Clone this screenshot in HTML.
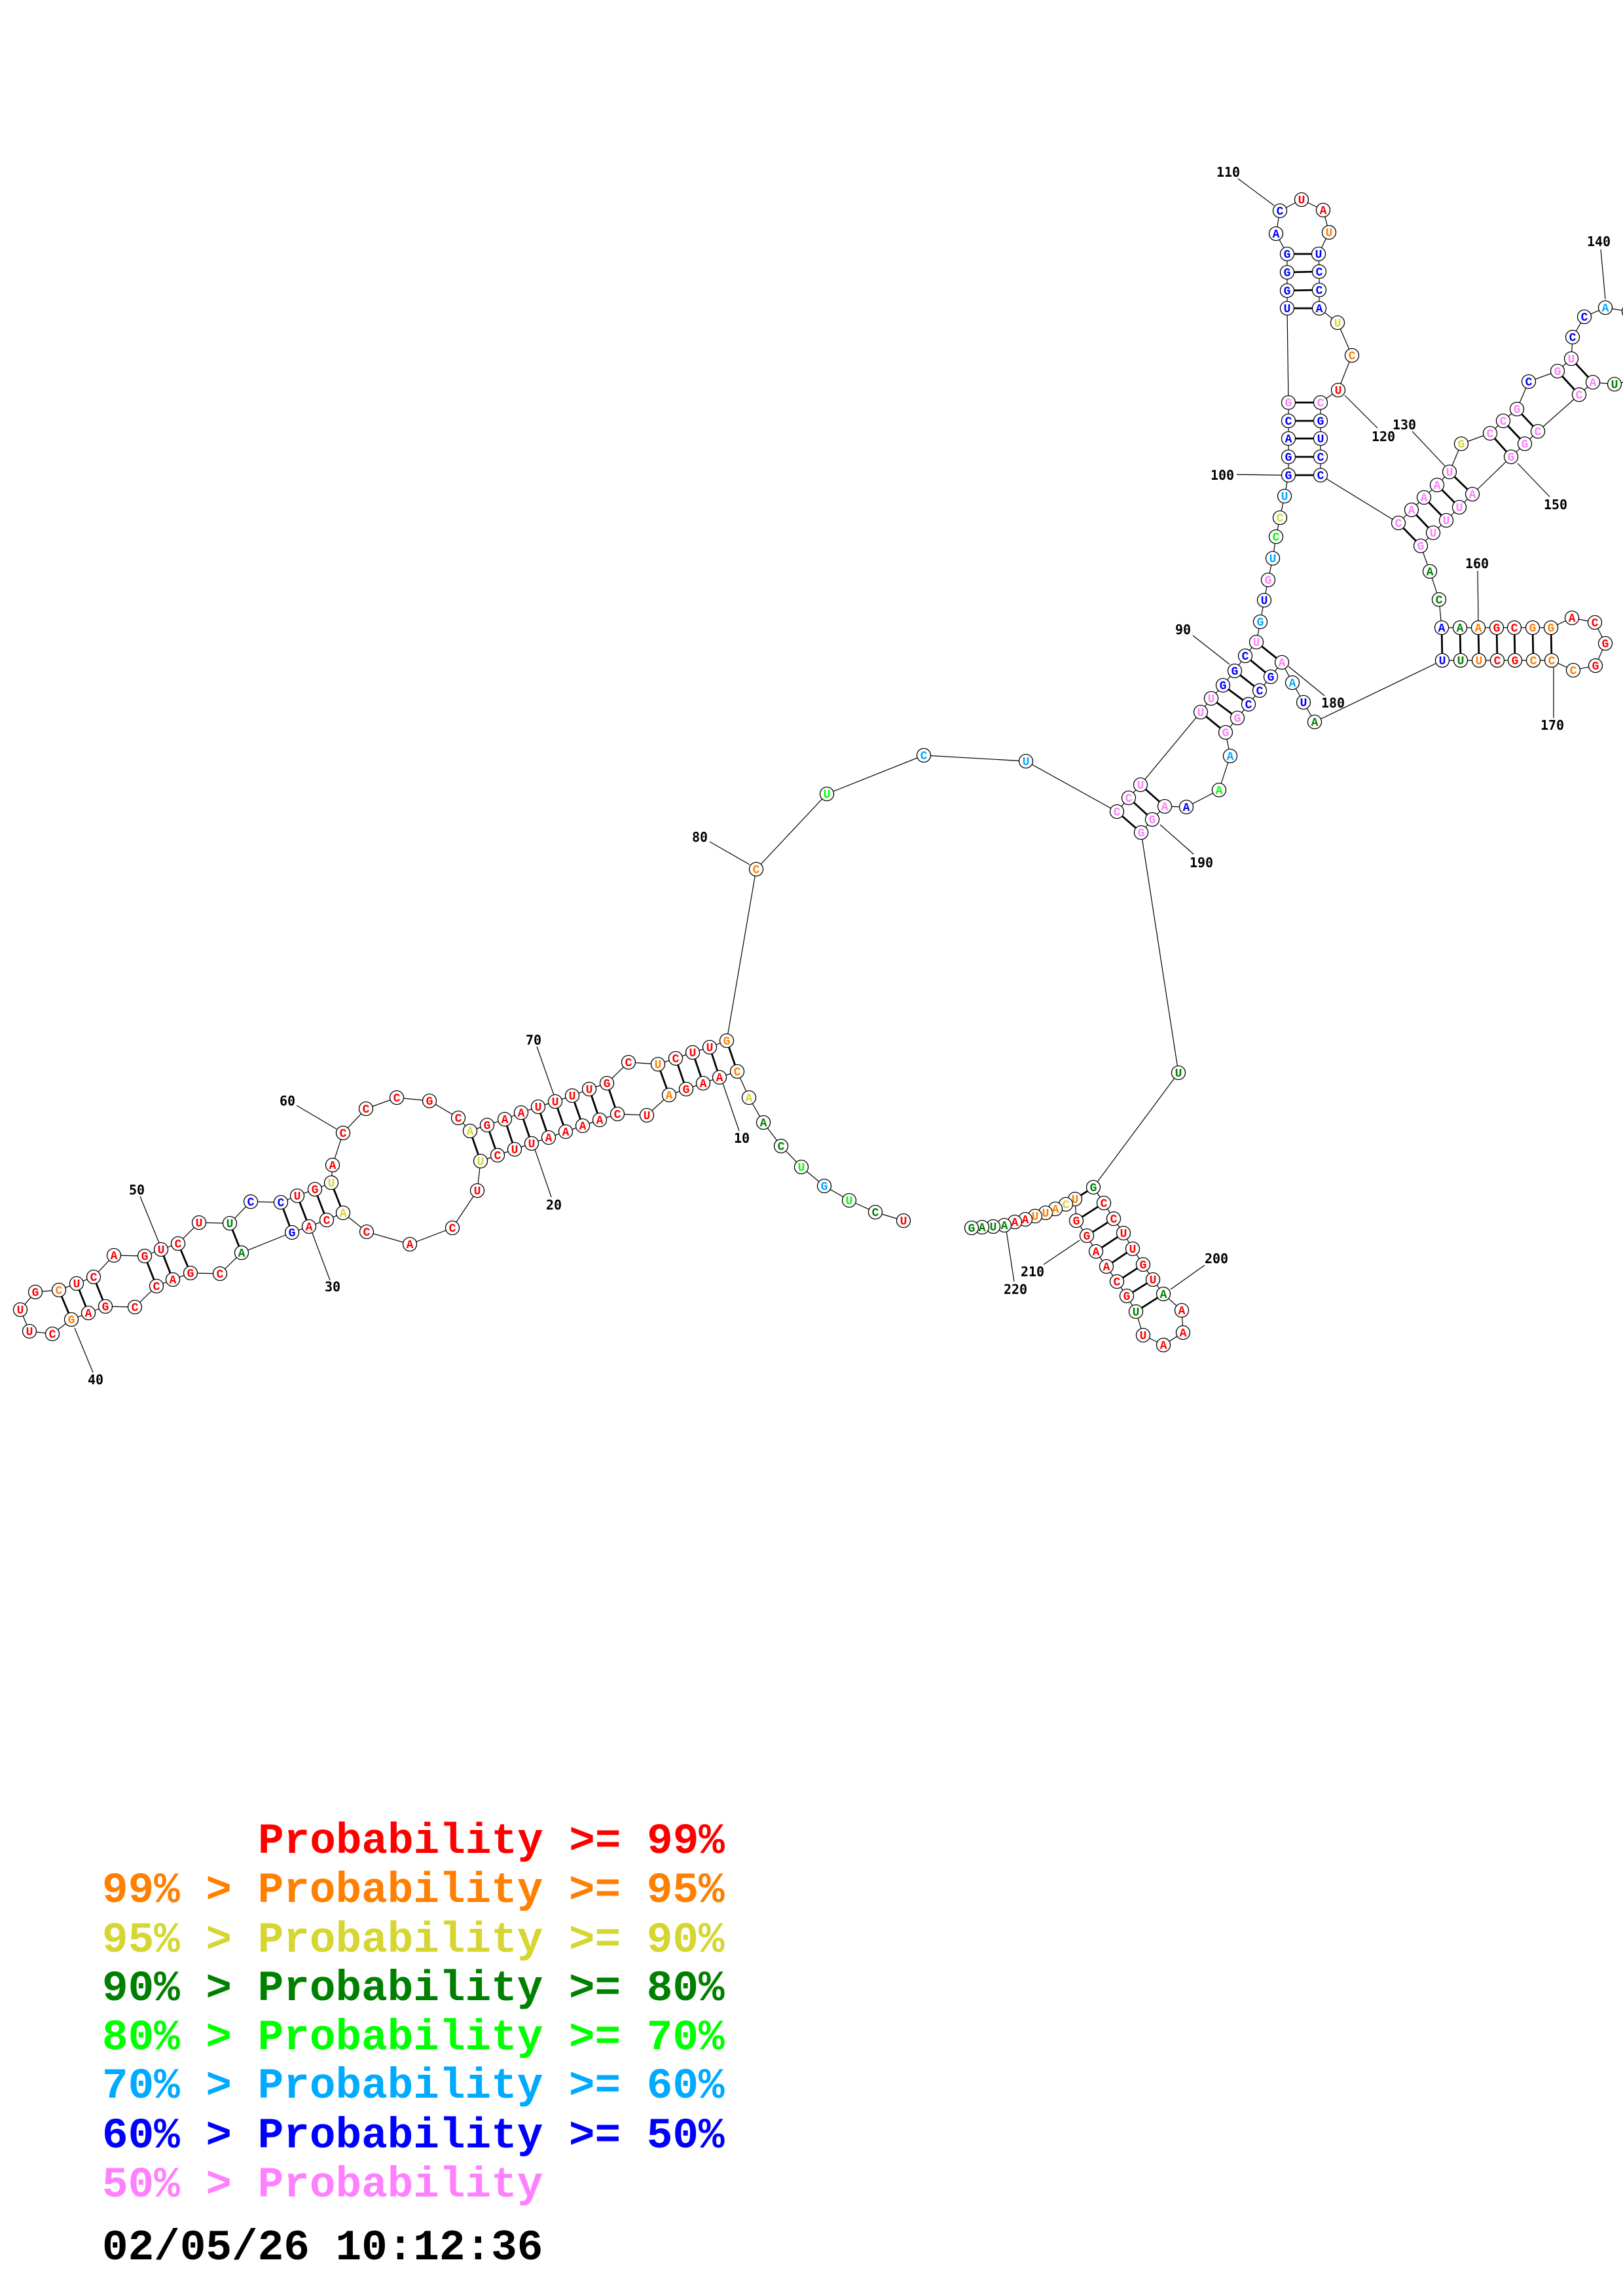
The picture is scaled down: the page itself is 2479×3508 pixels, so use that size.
<!DOCTYPE html>
<html><head><meta charset="utf-8"><title>RNA structure</title>
<style>
html,body{margin:0;padding:0;background:#fff}
svg{display:block}
.R{fill:#ff0000}.O{fill:#ff8000}.Y{fill:#d6d632}.D{fill:#008000}.L{fill:#00ff00}.S{fill:#00aaff}.B{fill:#0000ff}.P{fill:#ff80ff}.K{fill:#000}
</style></head><body>
<svg xmlns="http://www.w3.org/2000/svg" width="2479" height="3508" viewBox="0 0 2479 3508">
<rect x="0" y="0" width="2479" height="3508" fill="#fff"/>
<g fill="none" stroke="#000" stroke-width="1.2">
<polyline points="1380,1865 1337,1852 1297,1834 1259,1812 1224,1783 1193,1751 1166,1715 1144,1677 1126,1637 1099,1646 1074,1655 1048,1664 1022,1673 988,1704 943,1702 916,1711 890,1720 864,1729 838,1738 812,1747 786,1756 760,1765 734,1774 729,1819 691,1876 626,1901 560,1882 524,1853 499,1864 472,1874 446,1883 369,1914 336,1946 291,1945 264,1955 239,1965 206,1997 161,1996 135,2006 109,2016 80,2038 45,2034 31,2001 54,1974 90,1971 117,1961 143,1951 174,1918 221,1919 246,1909 272,1900 304,1868 351,1869 383,1836 429,1837 454,1827 481,1817 506,1807 508,1780 524,1731 559,1694 606,1677 656,1682 700,1708 718,1728 744,1719 771,1710 796,1700 822,1691 848,1683 874,1674 900,1664 927,1655 960,1623 1005,1626 1032,1617 1058,1608 1084,1600 1110,1590 1155,1328 1263,1213 1411,1154 1567,1163 1706,1240 1724,1219 1742,1199 1834,1088 1850,1067 1868,1047 1886,1025 1902,1002 1919,981 1925,950 1931,917 1937,886 1944,853 1949,820 1955,791 1962,758 1968,726 1968,698 1968,670 1968,643 1968,615 1966,471 1966,444 1966,416 1966,388 1949,357 1955,322 1988,305 2021,321 2030,355 2014,388 2015,415 2015,443 2015,471 2043,493 2065,543 2044,596 2017,615 2017,643 2017,670 2017,698 2017,726 2136,799 2156,779 2175,760 2195,741 2214,721 2232,678 2276,662 2296,643 2317,625 2335,583 2379,567 2400,548 2402,515 2420,484 2452,470 2488,476"/>
<polyline points="2490,582 2466,587 2433,584 2412,603 2349,659 2329,678 2308,698 2249,755 2229,775 2209,795 2189,814 2170,834 2184,873 2198,916 2202,959 2230,959 2258,959 2286,959 2313,959 2341,959 2369,959 2401,944 2436,951 2452,983 2437,1017 2403,1024 2370,1009 2342,1009 2314,1009 2287,1009 2259,1009 2231,1009 2203,1009 2008,1103 1991,1073 1974,1043 1958,1012 1941,1034 1924,1055 1907,1076 1890,1097 1872,1119 1879,1155 1862,1207 1812,1233 1779,1232 1760,1252 1743,1272 1800,1639 1670,1814 1686,1838 1701,1862 1716,1884 1730,1908 1746,1932 1761,1955 1777,1977 1805,2002 1807,2036 1777,2055 1746,2040 1735,2004 1721,1980 1706,1958 1690,1935 1674,1912 1660,1888 1644,1865 1642,1832 1628,1840 1612,1847 1597,1853 1581,1858 1566,1863 1550,1867 1534,1872 1517,1874 1500,1875 1484,1876"/>
<path d="M1104,1655L1129,1728 M817,1756L842,1829 M477,1884L504,1956 M114,2029L142,2097 M214,1828L243,1899 M453,1689L514,1725 M820,1599L846,1673 M1084,1286L1145,1321 M1822,971L1878,1015 M1889,725L1958,726 M1891,273L1946,314 M2054,604L2104,654 M2157,659L2207,712 M2445,381L2452,457 M2318,708L2367,759 M2257,872L2258,948 M2373,1020L2373,1097 M1968,1018L2023,1063 M1772,1260L1823,1305 M1788,1970L1840,1933 M1594,1932L1649,1895 M1537,1880L1549,1958"/>
</g>
<path fill="none" stroke="#000" stroke-width="2.8" d="M1110,1590L1126,1637 M1084,1600L1099,1646 M1058,1608L1074,1655 M1032,1617L1048,1664 M1005,1626L1022,1673 M927,1655L943,1702 M900,1664L916,1711 M874,1674L890,1720 M848,1683L864,1729 M822,1691L838,1738 M796,1700L812,1747 M771,1710L786,1756 M744,1719L760,1765 M718,1728L734,1774 M506,1807L524,1853 M481,1817L499,1864 M454,1827L472,1874 M429,1837L446,1883 M351,1869L369,1914 M272,1900L291,1945 M246,1909L264,1955 M221,1919L239,1965 M143,1951L161,1996 M117,1961L135,2006 M90,1971L109,2016 M1706,1240L1743,1272 M1724,1219L1760,1252 M1742,1199L1779,1232 M1834,1088L1872,1119 M1850,1067L1890,1097 M1868,1047L1907,1076 M1886,1025L1924,1055 M1902,1002L1941,1034 M1919,981L1958,1012 M1968,726L2017,726 M1968,698L2017,698 M1968,670L2017,670 M1968,643L2017,643 M1968,615L2017,615 M1966,471L2015,471 M1966,444L2015,443 M1966,416L2015,415 M1966,388L2014,388 M2136,799L2170,834 M2156,779L2189,814 M2175,760L2209,795 M2195,741L2229,775 M2214,721L2249,755 M2276,662L2308,698 M2296,643L2329,678 M2317,625L2349,659 M2379,567L2412,603 M2400,548L2433,584 M2202,959L2203,1009 M2230,959L2231,1009 M2258,959L2259,1009 M2286,959L2287,1009 M2313,959L2314,1009 M2341,959L2342,1009 M2369,959L2370,1009 M1670,1814L1642,1832 M1686,1838L1644,1865 M1701,1862L1660,1888 M1716,1884L1674,1912 M1730,1908L1690,1935 M1746,1932L1706,1958 M1761,1955L1721,1980 M1777,1977L1735,2004"/>
<g fill="#fff" stroke="#000" stroke-width="1.3">
<circle cx="1380" cy="1865" r="10.5"/><circle cx="1337" cy="1852" r="10.5"/><circle cx="1297" cy="1834" r="10.5"/><circle cx="1259" cy="1812" r="10.5"/><circle cx="1224" cy="1783" r="10.5"/><circle cx="1193" cy="1751" r="10.5"/><circle cx="1166" cy="1715" r="10.5"/><circle cx="1144" cy="1677" r="10.5"/><circle cx="1126" cy="1637" r="10.5"/><circle cx="1099" cy="1646" r="10.5"/>
<circle cx="1074" cy="1655" r="10.5"/><circle cx="1048" cy="1664" r="10.5"/><circle cx="1022" cy="1673" r="10.5"/><circle cx="988" cy="1704" r="10.5"/><circle cx="943" cy="1702" r="10.5"/><circle cx="916" cy="1711" r="10.5"/><circle cx="890" cy="1720" r="10.5"/><circle cx="864" cy="1729" r="10.5"/><circle cx="838" cy="1738" r="10.5"/><circle cx="812" cy="1747" r="10.5"/>
<circle cx="786" cy="1756" r="10.5"/><circle cx="760" cy="1765" r="10.5"/><circle cx="734" cy="1774" r="10.5"/><circle cx="729" cy="1819" r="10.5"/><circle cx="691" cy="1876" r="10.5"/><circle cx="626" cy="1901" r="10.5"/><circle cx="560" cy="1882" r="10.5"/><circle cx="524" cy="1853" r="10.5"/><circle cx="499" cy="1864" r="10.5"/><circle cx="472" cy="1874" r="10.5"/>
<circle cx="446" cy="1883" r="10.5"/><circle cx="369" cy="1914" r="10.5"/><circle cx="336" cy="1946" r="10.5"/><circle cx="291" cy="1945" r="10.5"/><circle cx="264" cy="1955" r="10.5"/><circle cx="239" cy="1965" r="10.5"/><circle cx="206" cy="1997" r="10.5"/><circle cx="161" cy="1996" r="10.5"/><circle cx="135" cy="2006" r="10.5"/><circle cx="109" cy="2016" r="10.5"/>
<circle cx="80" cy="2038" r="10.5"/><circle cx="45" cy="2034" r="10.5"/><circle cx="31" cy="2001" r="10.5"/><circle cx="54" cy="1974" r="10.5"/><circle cx="90" cy="1971" r="10.5"/><circle cx="117" cy="1961" r="10.5"/><circle cx="143" cy="1951" r="10.5"/><circle cx="174" cy="1918" r="10.5"/><circle cx="221" cy="1919" r="10.5"/><circle cx="246" cy="1909" r="10.5"/>
<circle cx="272" cy="1900" r="10.5"/><circle cx="304" cy="1868" r="10.5"/><circle cx="351" cy="1869" r="10.5"/><circle cx="383" cy="1836" r="10.5"/><circle cx="429" cy="1837" r="10.5"/><circle cx="454" cy="1827" r="10.5"/><circle cx="481" cy="1817" r="10.5"/><circle cx="506" cy="1807" r="10.5"/><circle cx="508" cy="1780" r="10.5"/><circle cx="524" cy="1731" r="10.5"/>
<circle cx="559" cy="1694" r="10.5"/><circle cx="606" cy="1677" r="10.5"/><circle cx="656" cy="1682" r="10.5"/><circle cx="700" cy="1708" r="10.5"/><circle cx="718" cy="1728" r="10.5"/><circle cx="744" cy="1719" r="10.5"/><circle cx="771" cy="1710" r="10.5"/><circle cx="796" cy="1700" r="10.5"/><circle cx="822" cy="1691" r="10.5"/><circle cx="848" cy="1683" r="10.5"/>
<circle cx="874" cy="1674" r="10.5"/><circle cx="900" cy="1664" r="10.5"/><circle cx="927" cy="1655" r="10.5"/><circle cx="960" cy="1623" r="10.5"/><circle cx="1005" cy="1626" r="10.5"/><circle cx="1032" cy="1617" r="10.5"/><circle cx="1058" cy="1608" r="10.5"/><circle cx="1084" cy="1600" r="10.5"/><circle cx="1110" cy="1590" r="10.5"/><circle cx="1155" cy="1328" r="10.5"/>
<circle cx="1263" cy="1213" r="10.5"/><circle cx="1411" cy="1154" r="10.5"/><circle cx="1567" cy="1163" r="10.5"/><circle cx="1706" cy="1240" r="10.5"/><circle cx="1724" cy="1219" r="10.5"/><circle cx="1742" cy="1199" r="10.5"/><circle cx="1834" cy="1088" r="10.5"/><circle cx="1850" cy="1067" r="10.5"/><circle cx="1868" cy="1047" r="10.5"/><circle cx="1886" cy="1025" r="10.5"/>
<circle cx="1902" cy="1002" r="10.5"/><circle cx="1919" cy="981" r="10.5"/><circle cx="1925" cy="950" r="10.5"/><circle cx="1931" cy="917" r="10.5"/><circle cx="1937" cy="886" r="10.5"/><circle cx="1944" cy="853" r="10.5"/><circle cx="1949" cy="820" r="10.5"/><circle cx="1955" cy="791" r="10.5"/><circle cx="1962" cy="758" r="10.5"/><circle cx="1968" cy="726" r="10.5"/>
<circle cx="1968" cy="698" r="10.5"/><circle cx="1968" cy="670" r="10.5"/><circle cx="1968" cy="643" r="10.5"/><circle cx="1968" cy="615" r="10.5"/><circle cx="1966" cy="471" r="10.5"/><circle cx="1966" cy="444" r="10.5"/><circle cx="1966" cy="416" r="10.5"/><circle cx="1966" cy="388" r="10.5"/><circle cx="1949" cy="357" r="10.5"/><circle cx="1955" cy="322" r="10.5"/>
<circle cx="1988" cy="305" r="10.5"/><circle cx="2021" cy="321" r="10.5"/><circle cx="2030" cy="355" r="10.5"/><circle cx="2014" cy="388" r="10.5"/><circle cx="2015" cy="415" r="10.5"/><circle cx="2015" cy="443" r="10.5"/><circle cx="2015" cy="471" r="10.5"/><circle cx="2043" cy="493" r="10.5"/><circle cx="2065" cy="543" r="10.5"/><circle cx="2044" cy="596" r="10.5"/>
<circle cx="2017" cy="615" r="10.5"/><circle cx="2017" cy="643" r="10.5"/><circle cx="2017" cy="670" r="10.5"/><circle cx="2017" cy="698" r="10.5"/><circle cx="2017" cy="726" r="10.5"/><circle cx="2136" cy="799" r="10.5"/><circle cx="2156" cy="779" r="10.5"/><circle cx="2175" cy="760" r="10.5"/><circle cx="2195" cy="741" r="10.5"/><circle cx="2214" cy="721" r="10.5"/>
<circle cx="2232" cy="678" r="10.5"/><circle cx="2276" cy="662" r="10.5"/><circle cx="2296" cy="643" r="10.5"/><circle cx="2317" cy="625" r="10.5"/><circle cx="2335" cy="583" r="10.5"/><circle cx="2379" cy="567" r="10.5"/><circle cx="2400" cy="548" r="10.5"/><circle cx="2402" cy="515" r="10.5"/><circle cx="2420" cy="484" r="10.5"/><circle cx="2452" cy="470" r="10.5"/>
<circle cx="2488" cy="476" r="10.5"/><circle cx="2490" cy="582" r="10.5"/>
<circle cx="2466" cy="587" r="10.5"/><circle cx="2433" cy="584" r="10.5"/><circle cx="2412" cy="603" r="10.5"/><circle cx="2349" cy="659" r="10.5"/><circle cx="2329" cy="678" r="10.5"/><circle cx="2308" cy="698" r="10.5"/>
<circle cx="2249" cy="755" r="10.5"/><circle cx="2229" cy="775" r="10.5"/><circle cx="2209" cy="795" r="10.5"/><circle cx="2189" cy="814" r="10.5"/><circle cx="2170" cy="834" r="10.5"/><circle cx="2184" cy="873" r="10.5"/><circle cx="2198" cy="916" r="10.5"/><circle cx="2202" cy="959" r="10.5"/><circle cx="2230" cy="959" r="10.5"/><circle cx="2258" cy="959" r="10.5"/>
<circle cx="2286" cy="959" r="10.5"/><circle cx="2313" cy="959" r="10.5"/><circle cx="2341" cy="959" r="10.5"/><circle cx="2369" cy="959" r="10.5"/><circle cx="2401" cy="944" r="10.5"/><circle cx="2436" cy="951" r="10.5"/><circle cx="2452" cy="983" r="10.5"/><circle cx="2437" cy="1017" r="10.5"/><circle cx="2403" cy="1024" r="10.5"/><circle cx="2370" cy="1009" r="10.5"/>
<circle cx="2342" cy="1009" r="10.5"/><circle cx="2314" cy="1009" r="10.5"/><circle cx="2287" cy="1009" r="10.5"/><circle cx="2259" cy="1009" r="10.5"/><circle cx="2231" cy="1009" r="10.5"/><circle cx="2203" cy="1009" r="10.5"/><circle cx="2008" cy="1103" r="10.5"/><circle cx="1991" cy="1073" r="10.5"/><circle cx="1974" cy="1043" r="10.5"/><circle cx="1958" cy="1012" r="10.5"/>
<circle cx="1941" cy="1034" r="10.5"/><circle cx="1924" cy="1055" r="10.5"/><circle cx="1907" cy="1076" r="10.5"/><circle cx="1890" cy="1097" r="10.5"/><circle cx="1872" cy="1119" r="10.5"/><circle cx="1879" cy="1155" r="10.5"/><circle cx="1862" cy="1207" r="10.5"/><circle cx="1812" cy="1233" r="10.5"/><circle cx="1779" cy="1232" r="10.5"/><circle cx="1760" cy="1252" r="10.5"/>
<circle cx="1743" cy="1272" r="10.5"/><circle cx="1800" cy="1639" r="10.5"/><circle cx="1670" cy="1814" r="10.5"/><circle cx="1686" cy="1838" r="10.5"/><circle cx="1701" cy="1862" r="10.5"/><circle cx="1716" cy="1884" r="10.5"/><circle cx="1730" cy="1908" r="10.5"/><circle cx="1746" cy="1932" r="10.5"/><circle cx="1761" cy="1955" r="10.5"/><circle cx="1777" cy="1977" r="10.5"/>
<circle cx="1805" cy="2002" r="10.5"/><circle cx="1807" cy="2036" r="10.5"/><circle cx="1777" cy="2055" r="10.5"/><circle cx="1746" cy="2040" r="10.5"/><circle cx="1735" cy="2004" r="10.5"/><circle cx="1721" cy="1980" r="10.5"/><circle cx="1706" cy="1958" r="10.5"/><circle cx="1690" cy="1935" r="10.5"/><circle cx="1674" cy="1912" r="10.5"/><circle cx="1660" cy="1888" r="10.5"/>
<circle cx="1644" cy="1865" r="10.5"/><circle cx="1642" cy="1832" r="10.5"/><circle cx="1628" cy="1840" r="10.5"/><circle cx="1612" cy="1847" r="10.5"/><circle cx="1597" cy="1853" r="10.5"/><circle cx="1581" cy="1858" r="10.5"/><circle cx="1566" cy="1863" r="10.5"/><circle cx="1550" cy="1867" r="10.5"/><circle cx="1534" cy="1872" r="10.5"/><circle cx="1517" cy="1874" r="10.5"/>
<circle cx="1500" cy="1875" r="10.5"/><circle cx="1484" cy="1876" r="10.5"/>
</g>
<g font-family="'Liberation Mono', 'DejaVu Sans Mono', monospace" font-weight="bold" font-size="18" text-anchor="middle">
<text x="1380" y="1871" class="R">U</text><text x="1337" y="1858" class="D">C</text><text x="1297" y="1840" class="L">U</text><text x="1259" y="1818" class="S">G</text><text x="1224" y="1789" class="L">U</text><text x="1193" y="1757" class="D">C</text><text x="1166" y="1721" class="D">A</text><text x="1144" y="1683" class="Y">A</text><text x="1126" y="1643" class="O">C</text><text x="1099" y="1652" class="R">A</text>
<text x="1074" y="1661" class="R">A</text><text x="1048" y="1670" class="R">G</text><text x="1022" y="1679" class="O">A</text><text x="988" y="1710" class="R">U</text><text x="943" y="1708" class="R">C</text><text x="916" y="1717" class="R">A</text><text x="890" y="1726" class="R">A</text><text x="864" y="1735" class="R">A</text><text x="838" y="1744" class="R">A</text><text x="812" y="1753" class="R">U</text>
<text x="786" y="1762" class="R">U</text><text x="760" y="1771" class="R">C</text><text x="734" y="1780" class="Y">U</text><text x="729" y="1825" class="R">U</text><text x="691" y="1882" class="R">C</text><text x="626" y="1907" class="R">A</text><text x="560" y="1888" class="R">C</text><text x="524" y="1859" class="Y">A</text><text x="499" y="1870" class="R">C</text><text x="472" y="1880" class="R">A</text>
<text x="446" y="1889" class="B">G</text><text x="369" y="1920" class="D">A</text><text x="336" y="1952" class="R">C</text><text x="291" y="1951" class="R">G</text><text x="264" y="1961" class="R">A</text><text x="239" y="1971" class="R">C</text><text x="206" y="2003" class="R">C</text><text x="161" y="2002" class="R">G</text><text x="135" y="2012" class="R">A</text><text x="109" y="2022" class="O">G</text>
<text x="80" y="2044" class="R">C</text><text x="45" y="2040" class="R">U</text><text x="31" y="2007" class="R">U</text><text x="54" y="1980" class="R">G</text><text x="90" y="1977" class="O">C</text><text x="117" y="1967" class="R">U</text><text x="143" y="1957" class="R">C</text><text x="174" y="1924" class="R">A</text><text x="221" y="1925" class="R">G</text><text x="246" y="1915" class="R">U</text>
<text x="272" y="1906" class="R">C</text><text x="304" y="1874" class="R">U</text><text x="351" y="1875" class="D">U</text><text x="383" y="1842" class="B">C</text><text x="429" y="1843" class="B">C</text><text x="454" y="1833" class="R">U</text><text x="481" y="1823" class="R">G</text><text x="506" y="1813" class="Y">U</text><text x="508" y="1786" class="R">A</text><text x="524" y="1737" class="R">C</text>
<text x="559" y="1700" class="R">C</text><text x="606" y="1683" class="R">C</text><text x="656" y="1688" class="R">G</text><text x="700" y="1714" class="R">C</text><text x="718" y="1734" class="Y">A</text><text x="744" y="1725" class="R">G</text><text x="771" y="1716" class="R">A</text><text x="796" y="1706" class="R">A</text><text x="822" y="1697" class="R">U</text><text x="848" y="1689" class="R">U</text>
<text x="874" y="1680" class="R">U</text><text x="900" y="1670" class="R">U</text><text x="927" y="1661" class="R">G</text><text x="960" y="1629" class="R">C</text><text x="1005" y="1632" class="O">U</text><text x="1032" y="1623" class="R">C</text><text x="1058" y="1614" class="R">U</text><text x="1084" y="1606" class="R">U</text><text x="1110" y="1596" class="O">G</text><text x="1155" y="1334" class="O">C</text>
<text x="1263" y="1219" class="L">U</text><text x="1411" y="1160" class="S">C</text><text x="1567" y="1169" class="S">U</text><text x="1706" y="1246" class="P">C</text><text x="1724" y="1225" class="P">C</text><text x="1742" y="1205" class="P">U</text><text x="1834" y="1094" class="P">U</text><text x="1850" y="1073" class="P">U</text><text x="1868" y="1053" class="B">G</text><text x="1886" y="1031" class="B">G</text>
<text x="1902" y="1008" class="B">C</text><text x="1919" y="987" class="P">U</text><text x="1925" y="956" class="S">G</text><text x="1931" y="923" class="B">U</text><text x="1937" y="892" class="P">G</text><text x="1944" y="859" class="S">U</text><text x="1949" y="826" class="L">C</text><text x="1955" y="797" class="Y">C</text><text x="1962" y="764" class="S">U</text><text x="1968" y="732" class="B">G</text>
<text x="1968" y="704" class="B">G</text><text x="1968" y="676" class="B">A</text><text x="1968" y="649" class="B">C</text><text x="1968" y="621" class="P">G</text><text x="1966" y="477" class="B">U</text><text x="1966" y="450" class="B">G</text><text x="1966" y="422" class="B">G</text><text x="1966" y="394" class="B">G</text><text x="1949" y="363" class="B">A</text><text x="1955" y="328" class="B">C</text>
<text x="1988" y="311" class="R">U</text><text x="2021" y="327" class="R">A</text><text x="2030" y="361" class="O">U</text><text x="2014" y="394" class="B">U</text><text x="2015" y="421" class="B">C</text><text x="2015" y="449" class="B">C</text><text x="2015" y="477" class="B">A</text><text x="2043" y="499" class="Y">U</text><text x="2065" y="549" class="O">C</text><text x="2044" y="602" class="R">U</text>
<text x="2017" y="621" class="P">C</text><text x="2017" y="649" class="B">G</text><text x="2017" y="676" class="B">U</text><text x="2017" y="704" class="B">C</text><text x="2017" y="732" class="B">C</text><text x="2136" y="805" class="P">C</text><text x="2156" y="785" class="P">A</text><text x="2175" y="766" class="P">A</text><text x="2195" y="747" class="P">A</text><text x="2214" y="727" class="P">U</text>
<text x="2232" y="684" class="Y">G</text><text x="2276" y="668" class="P">C</text><text x="2296" y="649" class="P">C</text><text x="2317" y="631" class="P">G</text><text x="2335" y="589" class="B">C</text><text x="2379" y="573" class="P">G</text><text x="2400" y="554" class="P">U</text><text x="2402" y="521" class="B">C</text><text x="2420" y="490" class="B">C</text><text x="2452" y="476" class="S">A</text>
<text x="2466" y="593" class="D">U</text><text x="2433" y="590" class="P">A</text><text x="2412" y="609" class="P">C</text><text x="2349" y="665" class="P">C</text><text x="2329" y="684" class="P">G</text><text x="2308" y="704" class="P">G</text>
<text x="2249" y="761" class="P">A</text><text x="2229" y="781" class="P">U</text><text x="2209" y="801" class="P">U</text><text x="2189" y="820" class="P">U</text><text x="2170" y="840" class="P">G</text><text x="2184" y="879" class="D">A</text><text x="2198" y="922" class="D">C</text><text x="2202" y="965" class="B">A</text><text x="2230" y="965" class="D">A</text><text x="2258" y="965" class="O">A</text>
<text x="2286" y="965" class="R">G</text><text x="2313" y="965" class="R">C</text><text x="2341" y="965" class="O">G</text><text x="2369" y="965" class="O">G</text><text x="2401" y="950" class="R">A</text><text x="2436" y="957" class="R">C</text><text x="2452" y="989" class="R">G</text><text x="2437" y="1023" class="R">G</text><text x="2403" y="1030" class="O">C</text><text x="2370" y="1015" class="O">C</text>
<text x="2342" y="1015" class="O">C</text><text x="2314" y="1015" class="R">G</text><text x="2287" y="1015" class="R">C</text><text x="2259" y="1015" class="O">U</text><text x="2231" y="1015" class="D">U</text><text x="2203" y="1015" class="B">U</text><text x="2008" y="1109" class="D">A</text><text x="1991" y="1079" class="B">U</text><text x="1974" y="1049" class="S">A</text><text x="1958" y="1018" class="P">A</text>
<text x="1941" y="1040" class="B">G</text><text x="1924" y="1061" class="B">C</text><text x="1907" y="1082" class="B">C</text><text x="1890" y="1103" class="P">G</text><text x="1872" y="1125" class="P">G</text><text x="1879" y="1161" class="S">A</text><text x="1862" y="1213" class="L">A</text><text x="1812" y="1239" class="B">A</text><text x="1779" y="1238" class="P">A</text><text x="1760" y="1258" class="P">G</text>
<text x="1743" y="1278" class="P">G</text><text x="1800" y="1645" class="D">U</text><text x="1670" y="1820" class="D">G</text><text x="1686" y="1844" class="R">C</text><text x="1701" y="1868" class="R">C</text><text x="1716" y="1890" class="R">U</text><text x="1730" y="1914" class="R">U</text><text x="1746" y="1938" class="R">G</text><text x="1761" y="1961" class="R">U</text><text x="1777" y="1983" class="D">A</text>
<text x="1805" y="2008" class="R">A</text><text x="1807" y="2042" class="R">A</text><text x="1777" y="2061" class="R">A</text><text x="1746" y="2046" class="R">U</text><text x="1735" y="2010" class="D">U</text><text x="1721" y="1986" class="R">G</text><text x="1706" y="1964" class="R">C</text><text x="1690" y="1941" class="R">A</text><text x="1674" y="1918" class="R">A</text><text x="1660" y="1894" class="R">G</text>
<text x="1644" y="1871" class="R">G</text><text x="1642" y="1838" class="O">U</text><text x="1628" y="1846" class="Y">C</text><text x="1612" y="1853" class="O">A</text><text x="1597" y="1859" class="O">U</text><text x="1581" y="1864" class="O">U</text><text x="1566" y="1869" class="R">A</text><text x="1550" y="1873" class="R">A</text><text x="1534" y="1878" class="D">A</text><text x="1517" y="1880" class="D">U</text>
<text x="1500" y="1881" class="D">A</text><text x="1484" y="1882" class="D">G</text>
</g>
<g font-family="'DejaVu Sans Mono', 'Liberation Mono', monospace" font-weight="bold" font-size="20" text-anchor="middle" fill="#000">
<text x="1133" y="1746">10</text><text x="846" y="1848">20</text><text x="508" y="1973">30</text><text x="146" y="2115">40</text><text x="209" y="1825">50</text><text x="439" y="1689">60</text><text x="815" y="1596">70</text><text x="1069" y="1286">80</text><text x="1807" y="969">90</text><text x="1867" y="733">100</text><text x="1876" y="270">110</text><text x="2113" y="674">120</text><text x="2145" y="656">130</text><text x="2442" y="376">140</text><text x="2376" y="778">150</text><text x="2256" y="868">160</text><text x="2371" y="1115">170</text><text x="2036" y="1081">180</text><text x="1835" y="1325">190</text><text x="1858" y="1930">200</text><text x="1577" y="1950">210</text><text x="1551" y="1977">220</text>
</g>
<g font-family="'Liberation Mono', 'DejaVu Sans Mono', monospace" font-weight="bold" font-size="66">
<text x="394" y="2831" class="R">Probability &gt;= 99%</text>
<text x="156" y="2906" class="O">99% &gt; Probability &gt;= 95%</text>
<text x="156" y="2982" class="Y">95% &gt; Probability &gt;= 90%</text>
<text x="156" y="3056" class="D">90% &gt; Probability &gt;= 80%</text>
<text x="156" y="3131" class="L">80% &gt; Probability &gt;= 70%</text>
<text x="156" y="3205" class="S">70% &gt; Probability &gt;= 60%</text>
<text x="156" y="3281" class="B">60% &gt; Probability &gt;= 50%</text>
<text x="156" y="3356" class="P">50% &gt; Probability</text>
<text x="156" y="3452" class="K">02/05/26 10:12:36</text>
</g>
</svg>
</body></html>
